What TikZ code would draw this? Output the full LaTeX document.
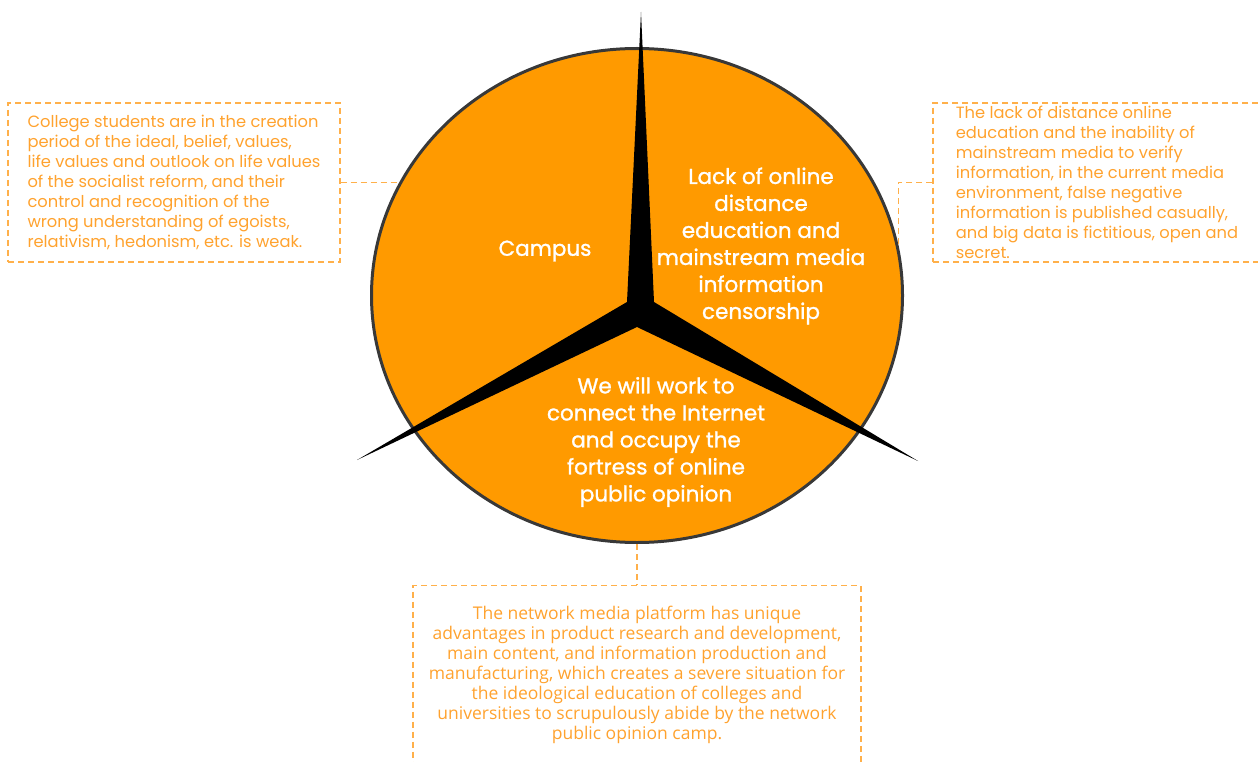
\documentclass[tikz,border=0pt]{standalone}
\usepackage{fontspec}
\setmainfont{Poppins}
\newfontfamily\notefont{Open Sans}
\newfontfamily\sectorfont{Poppins}[FakeBold=1.2]
\usepackage{tikz}
\usetikzlibrary{positioning,shapes.geometric}
\definecolor{campfill}{HTML}{FF9A00}
\definecolor{rim}{HTML}{383838}
\definecolor{dashline}{HTML}{FFB04A}
\definecolor{notetext}{HTML}{FFA22E}
\tikzset{
  campcircle/.style={
    ellipse,draw=rim,fill=campfill,line width=3pt,
    minimum width=531pt,minimum height=494pt
  },
  sector/.style={
    text=white,align=center,font=\sectorfont\fontsize{21.5}{27}\selectfont
  },
  notebox/.style={
    draw=dashline,line width=1.3pt,dash pattern=on 6pt off 4pt,
    text=notetext,font=\fontsize{16.3}{20}\selectfont
  },
  link/.style={draw=dashline,line width=1.3pt,dash pattern=on 6pt off 4pt}
}
\begin{document}
\begin{tikzpicture}[x=1pt,y=-1pt]
\useasboundingbox (0,0) rectangle (1258,762);
\clip (0,0) rectangle (1258,762);

\node[campcircle] (camp) at (637,295.5) {};

% the three spikes
\coordinate (tiptop) at (641,12);
\coordinate (tipleft) at (357,460);
\coordinate (tipright) at (918,461);
\fill[black] (tiptop) -- (654,302) -- (tipright) -- (637,327)
  -- (tipleft) -- (627,302) -- cycle;

\node[sector] (campus) at (545,251) {Campus};
\node[sector] (media) at (761,246)
{Lack of online\\distance\\education and\\mainstream media\\information\\censorship};
\node[sector] (fortress) at (656,442)
{We will work to\\connect the Internet\\and occupy the\\fortress of online\\public opinion};

\node[notebox,align=left,minimum width=332pt,minimum height=159pt]
(leftnote) at (174,182.5)
{College students are in the creation\\period of the ideal, belief, values,\\life values and outlook on life values\\of the socialist reform, and their\\control and recognition of the\\wrong understanding of egoists,\\relativism, hedonism, etc. is weak.};

\node[notebox,align=left,minimum width=328pt,minimum height=159pt]
(rightnote) at (1097,182.5)
{The lack of distance online\\education and the inability of\\mainstream media to verify\\information, in the current media\\environment, false negative\\information is published casually,\\and big data is fictitious, open and\\secret.};

\node[notebox,align=center,minimum width=448pt,minimum height=178pt,
  font=\notefont\fontsize{17.5}{20}\selectfont,below=41pt of camp]
(bottomnote)
{The network media platform has unique\\advantages in product research and development,\\main content, and information production and\\manufacturing, which creates a severe situation for\\the ideological education of colleges and\\universities to scrupulously abide by the network\\public opinion camp.};

\draw[link] (leftnote.east) -- (leftnote.east -| camp.155);
\draw[link] (rightnote.west) -| (camp.11);
\draw[link] (camp.south) -- (bottomnote.north);
\end{tikzpicture}
\end{document}
